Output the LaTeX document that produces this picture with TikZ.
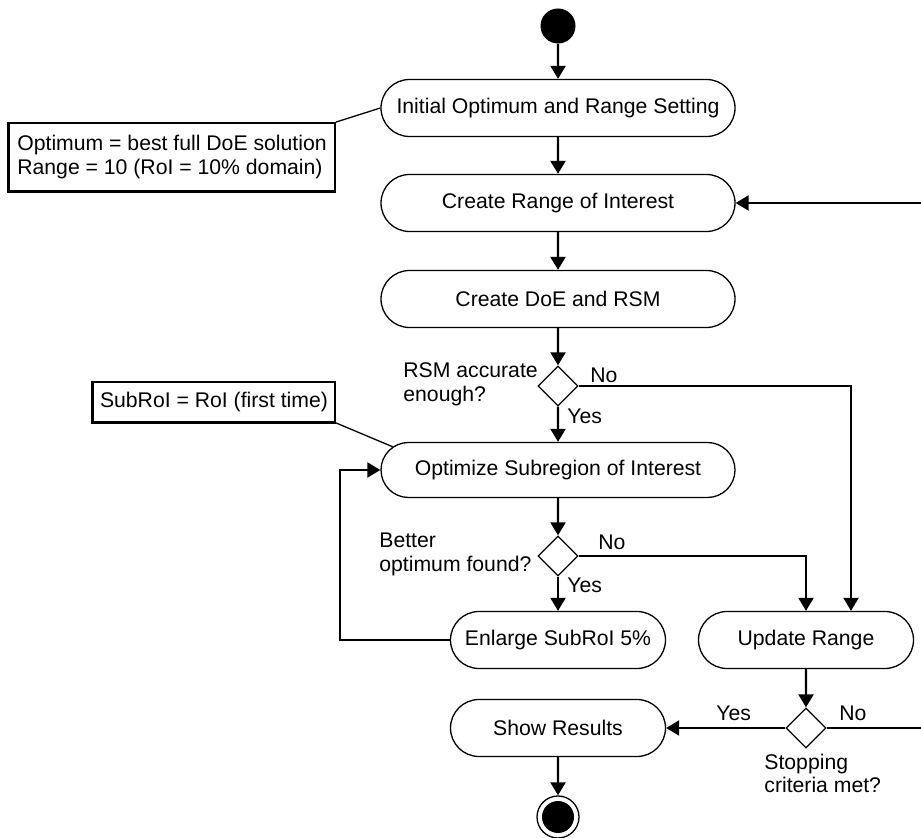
\documentclass[tikz,border=0pt]{standalone}
\usepackage{fontspec}
\setmainfont{Liberation Sans}
\usetikzlibrary{arrows.meta,shapes.misc,shapes.geometric}
\begin{document}
\begin{tikzpicture}[x=0.5pt,y=-0.5pt,
  every node/.style={font=\fontsize{10.6}{12}\selectfont},
  act/.style={rounded rectangle, draw, line width=0.65pt, minimum width=177pt, minimum height=28.5pt, inner sep=0pt},
  actsm/.style={act, minimum width=107.5pt},
  dec/.style={diamond, draw, line width=0.65pt, minimum width=20pt, minimum height=20pt, inner sep=0pt},
  flow/.style={draw, line width=1.1pt, -{Triangle[length=6.5pt,width=7.5pt]}},
  plainline/.style={draw, line width=1.1pt},
  leader/.style={draw, line width=0.65pt},
  lbl/.style={inner sep=0pt, anchor=base west, align=left},
  note/.style={draw, line width=0.9pt, align=left, inner sep=0pt},
  noteshadow/.style={draw, line width=0.5pt}
]
\useasboundingbox (0,0) rectangle (921,838);

% activity nodes
\node[circle, fill, minimum size=17.5pt, inner sep=0pt] (start) at (558,26) {};
\node[act] (n1) at (558,108) {Initial Optimum and Range Setting};
\node[act] (n2) at (558,203) {Create Range of Interest};
\node[act] (n3) at (558,299) {Create DoE and RSM};
\node[dec] (d1) at (558,386) {};
\node[act, minimum height=27.5pt] (n4) at (558,470) {Optimize Subregion of Interest};
\node[dec] (d2) at (558,556) {};
\node[actsm] (n5) at (558,640) {Enlarge SubRoI 5\%};
\node[actsm] (n6) at (806,640) {Update Range};
\node[dec] (d3) at (806,728) {};
\node[actsm] (n7) at (558,728) {Show Results};
\node[circle, draw, line width=0.65pt, minimum size=21pt, inner sep=0pt] (end) at (558,817) {};
\node[circle, fill, minimum size=16pt, inner sep=0pt] (endin) at (558,817) {};

% notes
\node[note, minimum width=163pt, minimum height=34pt] (nt1) at (172,157)
  {Optimum = best full DoE solution\\Range = 10 (RoI = 10\% domain)};
\node[note, minimum width=121pt, minimum height=20pt] (nt2) at (214,402) {SubRoI = RoI (first time)};
\draw[noteshadow] ([xshift=-0.4pt]nt1.north west) -- ([xshift=-0.4pt,yshift=-0.4pt]nt1.south west) -- ([yshift=-0.4pt]nt1.south east);
\draw[noteshadow] ([xshift=-0.4pt]nt2.north west) -- ([xshift=-0.4pt,yshift=-0.4pt]nt2.south west) -- ([yshift=-0.4pt]nt2.south east);
\draw[leader] (nt1.north east) -- (n1.west);
\draw[leader] (nt2.south east) -- (n4.172);

% helper coordinates
\coordinate (c1) at (851,386);
\coordinate (lp) at (340,470);
\coordinate (re) at (921,728);
\coordinate (rs) at (921,203);

% connectors
\draw[flow] (start) -- (n1);
\draw[flow] (n1) -- (n2);
\draw[flow] (n2) -- (n3);
\draw[flow] (n3) -- (d1);
\draw[flow] (d1) -- (n4);
\draw[flow] (d1.east) -| (c1 |- n6.north);
\draw[flow] (n4) -- (d2);
\draw[flow] (d2) -- (n5);
\draw[flow] (d2.east) -| (n6.north);
\draw[flow] (n5.west) -| (lp |- n4.west) -- (n4.west);
\draw[flow] (n6) -- (d3);
\draw[flow] (d3.west) -- (n7.east);
\draw[plainline] (d3.east) -- (re);
\draw[flow] (rs) -- (n2.east);
\draw[flow] (n7) -- (end);

% labels (base = baseline of last line)
\node[lbl] (l1) at (403,402) {RSM accurate\\enough?};
\node[lbl] (l1no) at (590,383) {No};
\node[lbl] (l1yes) at (567,424) {Yes};
\node[lbl] (l2) at (379,572) {Better\\optimum found?};
\node[lbl] (l2no) at (598,550) {No};
\node[lbl] (l2yes) at (567,593) {Yes};
\node[lbl] (l3yes) at (716,721) {Yes};
\node[lbl] (l3no) at (839,721) {No};
\node[lbl] (l3) at (764,793) {Stopping\\criteria met?};
\end{tikzpicture}
\end{document}
